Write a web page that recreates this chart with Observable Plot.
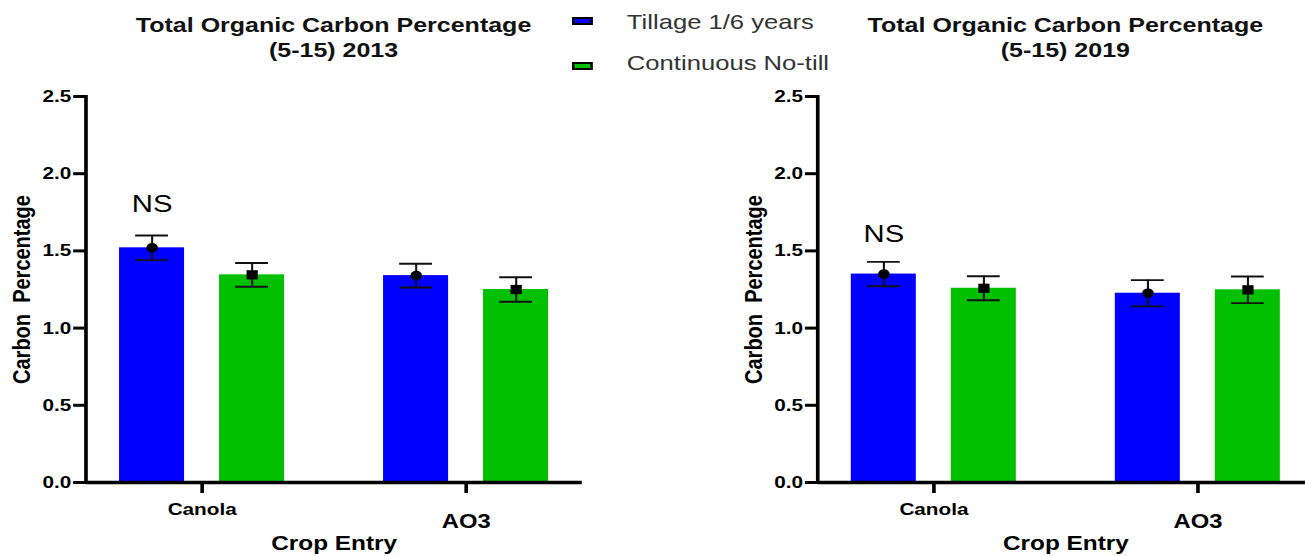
<!DOCTYPE html>
<html><head><meta charset="utf-8">
<script src="https://cdn.jsdelivr.net/npm/d3@7"></script>
<script src="https://cdn.jsdelivr.net/npm/@observablehq/plot@0.6"></script>
<style>
html,body{margin:0;padding:0;background:#fff;overflow:hidden;width:1305px;height:556px;}
#wrap{position:absolute;left:0;top:0;width:1070px;height:556px;transform:scaleX(1.2196);transform-origin:0 0;font-family:"Liberation Sans",Arial,sans-serif;}
.title{position:absolute;top:12px;width:407px;text-align:center;font-weight:bold;font-size:20.5px;line-height:25px;color:#111;}
.panel{position:absolute;top:80px;width:487px;height:476px;}
.panel svg{max-width:none !important;}
.leg{position:absolute;font-size:21px;line-height:21px;color:#333;white-space:nowrap;}
.sw{position:absolute;width:17px;height:8px;box-sizing:border-box;border:2px solid #000;}
svg text{white-space:pre;}
</style></head>
<body><div id="wrap"></div>
<script>
// ---- data ----
const crops = ["Canola", "AO3"];
const treatments = ["Tillage 1/6 years", "Continuous No-till"];
const colors = ["#0000ff", "#00c000"];
const titles2013 = ["Total Organic Carbon Percentage", "(5-15) 2013"];
const titles2019 = ["Total Organic Carbon Percentage", "(5-15) 2019"];
const tillage2013 = [1.52, 1.34];
const tillageErr2013 = [0.08, 0.077];
const noTill2013 = [1.345, 1.25];
const noTillErr2013 = [0.077, 0.079];
const tillage2019 = [1.35, 1.226];
const tillageErr2019 = [0.079, 0.085];
const noTill2019 = [1.258, 1.248];
const noTillErr2019 = [0.078, 0.086];
const yTicks = [0, 0.5, 1, 1.5, 2, 2.5];
const nsText = "NS";
const nsY2013 = 1.80;
const nsY2019 = 1.606;
const yLabel = "Carbon  Percentage";
const xLabel = "Crop Entry";

const wrap = document.getElementById("wrap");

function rows(means, errs, t) {
  return crops.map((c, i) => ({crop: c, treatment: t, mean: means[i], lo: means[i] - errs[i], hi: means[i] + errs[i]}));
}

function panel(tMeans, tErr, nMeans, nErr, nsY) {
  const till = rows(tMeans, tErr, treatments[0]);
  const nt = rows(nMeans, nErr, treatments[1]);
  const off = 41;
  const barInset = 68.6;
  const capInset = 81.8;
  const ns = [{crop: crops[0], y: nsY, label: nsText}];
  const groups = [[till, -off, "circle"], [nt, off, "square"]];
  const marks = [];
  groups.forEach(([d, dx, sym], k) => {
    marks.push(Plot.barY(d, {x: "crop", y: "mean", fill: colors[k], dx, insetLeft: barInset, insetRight: barInset}));
  });
  groups.forEach(([d, dx, sym]) => {
    marks.push(Plot.ruleX(d, {x: "crop", y1: "lo", y2: "hi", dx, stroke: "#111", strokeWidth: 1.7}));
    marks.push(Plot.tickY(d, {x: "crop", y: "hi", dx, stroke: "#111", strokeWidth: 1.9, insetLeft: capInset, insetRight: capInset}));
    marks.push(Plot.tickY(d, {x: "crop", y: "lo", dx, stroke: "#111", strokeWidth: 1.9, insetLeft: capInset, insetRight: capInset}));
    marks.push(Plot.dot(d, {x: "crop", y: "mean", dx, symbol: sym, r: sym === "circle" ? 4.8 : 5.2, fill: "#000", stroke: "none"}));
  });
  marks.push(Plot.text(ns, {x: "crop", y: "y", text: "label", dx: -off, fontSize: 24, lineAnchor: "middle", fill: "#000"}));
  marks.push(Plot.ruleY([0], {stroke: "#000", strokeWidth: 3.5}));
  marks.push(Plot.frame({anchor: "left", stroke: "#000", strokeWidth: 3}));
  marks.push(Plot.axisY(yTicks, {tickSize: 10, tickPadding: 2, tickFormat: d3.format(".1f"), fontSize: 17, fontWeight: "bold", strokeWidth: 3, label: null}));
  marks.push(Plot.axisX([crops[0]], {tickSize: 11, tickPadding: 9, fontSize: 17, fontWeight: "bold", strokeWidth: 3, label: null}));
  marks.push(Plot.axisX([crops[1]], {tickSize: 11, tickPadding: 21, fontSize: 19.5, fontWeight: "bold", strokeWidth: 3, label: null}));
  marks.push(Plot.text([yLabel], {frameAnchor: "left", rotate: -90, dx: -52, fontSize: 20, fontWeight: "bold", lineAnchor: "middle", textAnchor: "middle", fill: "#000"}));
  marks.push(Plot.text([xLabel], {frameAnchor: "bottom", dy: 61, fontSize: 20, fontWeight: "bold", lineAnchor: "middle", fill: "#000"}));
  return Plot.plot({
    width: 487,
    height: 476,
    marginLeft: 70,
    marginRight: 10,
    marginTop: 16,
    marginBottom: 74,
    style: {fontFamily: "'Liberation Sans', Arial, sans-serif", color: "#000", background: "transparent", overflow: "visible", maxWidth: "none"},
    x: {type: "band", domain: crops, paddingInner: 0.12, paddingOuter: 0, round: false},
    y: {domain: [0, 2.5]},
    marks
  });
}

function addPanel(left, titleLines, plot) {
  const t = document.createElement("div");
  t.className = "title";
  t.style.left = (left + 70) + "px";
  t.innerHTML = titleLines.join("<br>");
  wrap.appendChild(t);
  const p = document.createElement("div");
  p.className = "panel";
  p.style.left = left + "px";
  p.appendChild(plot);
  wrap.appendChild(p);
}

addPanel(0, titles2013, panel(tillage2013, tillageErr2013, noTill2013, noTillErr2013, nsY2013));
addPanel(600, titles2019, panel(tillage2019, tillageErr2019, noTill2019, noTillErr2019, nsY2019));

// legend
const legTops = [[17, 11], [62, 52]];
treatments.forEach((t, i) => {
  const sw = document.createElement("div");
  sw.className = "sw";
  sw.style.left = "469px";
  sw.style.top = legTops[i][0] + "px";
  sw.style.background = colors[i];
  wrap.appendChild(sw);
  const tx = document.createElement("div");
  tx.className = "leg";
  tx.style.left = "514px";
  tx.style.top = legTops[i][1] + "px";
  tx.textContent = t;
  wrap.appendChild(tx);
});
</script>
</body></html>
